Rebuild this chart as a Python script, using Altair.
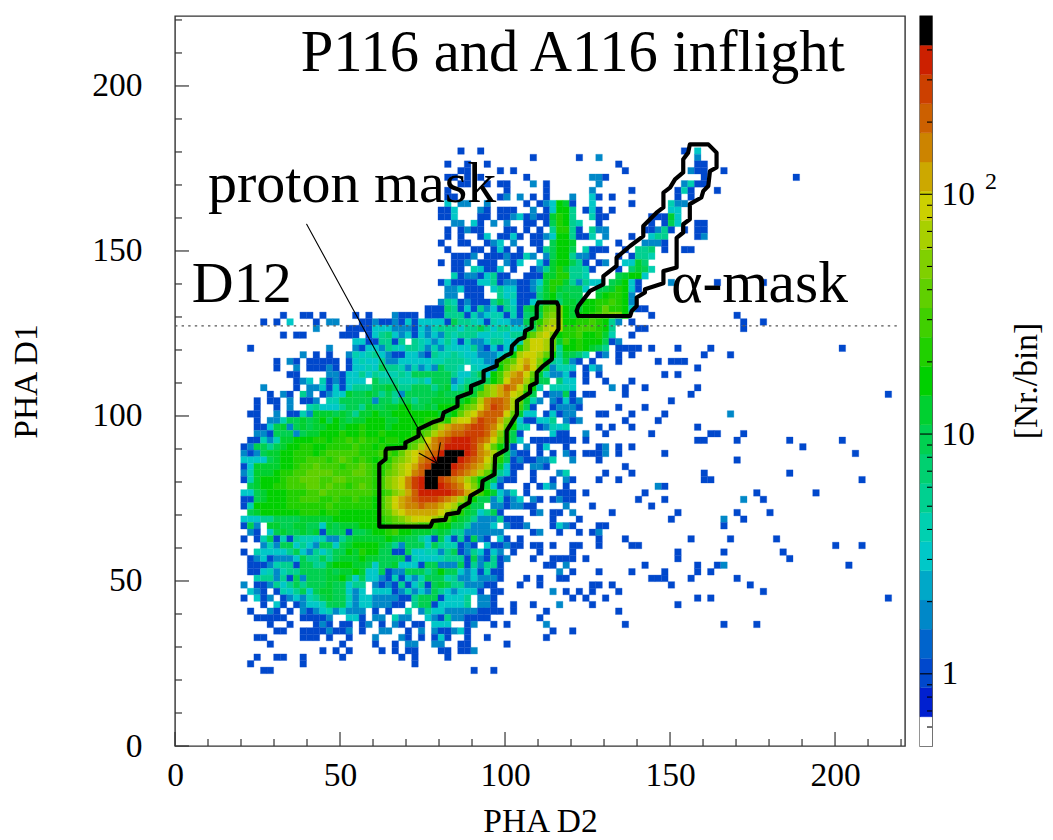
import altair as alt
import pandas as pd

FONT = "Liberation Serif"
BIN = 255 / 128
X_MAX = 221.2
Y_MAX = 221.2

# Histogram cells: "row|col:codes col:codes"
ROWS = [
"90|43:1 46:1 77:1 79:3",
"89|54:1 61:1 64:2 79:2",
"88|41:1 44:1 47:1 67:1 79:11",
"87|43:11 49:1 51:1 68:1 78:2 79:11 83:1",
"86|41:11 44:1 46:1 53:1 63:221 80:1 94:1",
"85|43:11 47:1 49:1 50:1 54:2 56:1 64:2 77:2 78:4 79:11",
"84|41:1 50:1 56:1 63:2 69:1 76:1 77:4 78:1 82:1",
"83|41:11 49:12 52:2 54:1 56:1 60:2 63:3 64:1 66:1 76:1 78:1",
"82|41:3 43:22 47:2 53:1 55:123cb1 63:3 69:1 75:422",
"81|40:113 46:21 49:11 51:1 54:2 56:13cc5 62:13 64:1 66:1 75:33",
"80|40:113 46:11 49:11231211bdc5 63:411 72:111b3",
"79|42:22 45:31 48:2 50:2 53:11 56:1 57:adc54 64:1 72:1 74:1a3 79:11",
"78|41:1 43:12 45:11 50:1 51:1 53:1 55:1 57:5dd51 63:522 71:11251 77:1 79:11",
"77|41:1 43:1 46:13 49:1131 54:1123cc5 61:114 65:2 69:1 72:355 79:12",
"76|40:1 43:11 47:123 51:2 54:11 57:accb 64:3 67:1 71:2221",
"75|41:1 45:11 48:13 50:1 52:1 55:15acca 62:4111 68:1 70:557 74:1 77:11",
"74|42:1112 47:1112 51:1142 56:2acc5221 67:1 69:1554",
"73|40:1 42:112 46:111 50:213 55:31bcca51 64:12 68:33b7",
"72|42:11 45:4311 49:3 51:1 54:125bdb5541 67:1 69:7ba4",
"71|42:412213511 53:111bbdd554 67:abcc3",
"70|40:13 42:1111 46:33 48:512 51:2 52:11 54:23bddb5 61:2533 66:abc31 75:2 82:1 89:1",
"69|41:223111 48:3 49:5331125bdbaaa3 64:aabdc31",
"68|41:22 44:111 49:5341117bcabaa 64:bcddc2",
"67|40:254121115a531135bc7bbaccddedc2",
"66|38:111 41:751315231 50:541abbefgcbbccdfddc3 70:11",
"65|16:1 19:11 22:1 27:1 29:1 33:2 34:111 38:111 41:5551423441 51:417aafggcbccdefggc 72:1 85:1",
"64|13:1 15:1 17:3 21:1 23:22 28:11 30:2 31:11 33:2 34:1 35:3 36:1 37:3333 41:1a55431433 51:22abdghhccddedc52 69:1 86:1 89:1",
"63|21:2 26:1111 30:333 33:222 36:1 37:3 38:2 39:45 41:55355a5355 51:335afhihddeeedc5 70:11 86:1",
"62|16:1 18:11 25:111 29:1357323132325455533443 51:55dfhigcddeccdb4 69:1",
"61|27:33 29:11 31:55 33:1 34:5 36:5 37:4 38:3 39:2 40:3 41:5 42:3 43:1 44:4 45:22 47:3 48:55 50:3 51:34giihfbecdccca12",
"60|11:1 23:2 27:2 28:1 29:33 31:2 32:5 33:4 34:3 35:55 37:4 38:2 39:4 40:2 41:4 42:333 45:5 46:2 47:1 48:3 49:1 50:3 51:3dgiihf5ccdcba5 67:1111 72:1 76:1 81:1 101:1",
"59|19:2 21:1 23:1 26:2434532113321544543322234chiihfc5ba74 64:12 67:1 69:1 80:1 84:1",
"58|15:1 17:21 20:11111 26:13433522333334455543322defijigc54a21 63:1 67:1 73:1 75:111",
"57|15:1 18:2 20:111 23:21 26:1 27:3343a55424232a554.4332cfhikifb2443 62:132 79:1",
"56|17:11 23:22 25:13353544454aaaaaa5335a3cehjkifb42231 62:1 64:1 74:1 76:1",
"55|18:123 22:4121 26:333 30:a55544453aaa23555aceikkheaa.733 62:1 65:1 69:1",
"54|13:2 18:1 20:22 22:3 23:1 24:3 25:1 26:3 27:555aaba55aaa5ab35aabghjlkifc4.4443 66:2 68:1 71:1 79:1",
"53|14:1 16:21 19:5 20:2 22:1 23:2 24:33 26:baaba5a52aaaaabaaabbfghjkihda.122a1 62:11 68:1 78:1 108:1",
"52|12:1 14:11 17:2 19:11 21:2 23:44 25:aaaaa 30:2 31:aa5aa5aabbbbbcehkllkhfb42.21312 75:1",
"51|12:1 15:1 17:2 20:453335aa5baabbccaabacccdfgikmlkhea1 57:12221 67:1 71:1",
"50|11:11 15:2 17:11 19:42 21:bbbaba5bbcbbcccccccbbcfhikllli 51:fb33 56:1 57:3 58:1 59:22 64:11 69:1 74:1 84:2",
"49|12:1 14:224 17:aababcacbabbcccbbccccddedhiikmlljgd311335 59:212 68:1 73:1",
"48|12:11 14:3 15:ab2ababbccbccdcccbccccddfhjkklmmlkifc44 55:12434 64:1 66:1 69:1 79:1",
"47|12:22 14:1 15:aaa2abbcccdccdccdccccdefhjkllmmmljgca1 57:311 62:2 65:1 72:1 81:11 86:1",
"46|11:11 13:424 16:bbcccddcddededdcddcdefiklmnnnmlkifca3 54:1111111 62:1 79:11 85:1 93:1 101:1",
"45|10:12aa5abccddccddddeddcdcccefhjklnnnnmkifca1 53:2 55:13 59:1 64:12 67:1 69:1 95:1",
"44|10:212abbccdddcdeeeeedddeedfhijklnooonmkjhea211 55:1 57:1 59:21 62:111 65:2 67:1 74:1 103:1",
"43|10:3333abccddeeedefededcddfghiklnooonmlkigda1211224 60:2 64:1 85:1",
"42|10:13bbbbccdeefeeedeefeddeghijlmooonmlkjhfb311 54:22 56:1 68:1",
"41|10:24bbbcddeeffffeeeffeddfghikloooomlkjhfc531 54:1 58:2 59:4 65:1 69:1 80:1 93:1",
"40|10:14bcccdeefffeeffeeeedeghikmnoomlkjhfcba211 54:1 57:1 59:21 64:1 67:1 80:11 104:1",
"39|11:abccddeeeffefeedefedeghikmnoonmlkigdb31 53:1 55:132 59:1 73:21",
"38|10:33abcccdddeefeeeeeeeddeghjlnnnnnmljhecb324 53:1 58:111 62:1 71:1 88:1 97:1",
"37|10:11abcccddeeeddeddeddcegijklmmmlkjhfcaa24123 54:21 57:12 59:11 70:1 74:1 86:2 89:1",
"36|10:14cccccddddddeddddddcegijkklkkjihecaa 48:2212211 59:2 63:1 72:1",
"35|11:abccccccdddcddccccccefhijjjjjihfdba35a1 54:12 57:11 60:2 66:1 76:1 85:1 90:1",
"34|10:33355aaaabbbbbcccccccdefghiiihgecba52225111 57:1 61:1 75:1 83:2 86:1",
"33|10:1a2.bbaabbaa3babbbccccdeeffeedccaa52223.2112 57:1 58:3 59:2 60:1 64:11 83:1",
"32|11:21.3abaabab1aaa1aabccdeccbbbaba55222222 54:1 55:2 58:1 61:1 63:1 64:2",
"31|10:1 12:14a14154434225abbbbbcbbaa531a3151a21 49:31 52:1 64:1 68:1 78:1 84:1 91:1",
"30|13:242aa3532aa3abccccba52aaa3a544121 47:3112 51:11 54:11 57:1 60:11 64:1 69:11 100:1 104:1",
"29|10:1 12:433335a32535aacbdccaa11a334425a1253132 51:1 55:1 60:1 76:1 83:1 92:1",
"28|11:12312223a55a5abbbcbbaaaa1433345551a21512 54:1 57:1111 62:1 76:1 93:1",
"27|11:11124551aa55bcccbba3aab3331aa222a152551 56:11 59:2 71:1 79:1 82:1 83:2 102:1",
"26|11:11342455aaaababbcb33a122aaa5acaa3231411 58:2 60:1 64:1 69:1 74:1 79:1 81:1",
"25|12:455251a2aaabbca3a332141324aaa452232221 53:1 55:1 58:11 72:111 78:1 85:1",
"24|10:2 12:112535a5aaabaa355.212151351aba5522211 52:1 55:1 63:11 66:1 75:1 87:1",
"23|11:321.1435a3abbaa323.333124232a5323331.11 57:2 59:1 61:1 63:1 67:1 89:1",
"22|10:1 12:312.123245abaa42332222115aaa13335.221 60:1 62:1 65:1 79:1 81:1 108:1",
"21|13:1 15:3 16:1 18:1 19:2 20:33 22:4aaa 26:3 27:2 28:33 30:22211 36:5 37:aa 39:1 40:33 42:33 44:5 46:22 48:1 51:1 54:1 58:2 63:1 76:1",
"20|11:1 14:2 15:1 17:1 19:2 20:1 21:2 22:3 23:4 24:2 25:3 26:222 30:1 32:1 35:4 37:2 38:5 39:33 41:2 42:22 44:2211 48:11 51:1 56:1 67:1",
"19|12:11111 19:1111 23:2 26:33 28:1 30:22 33:4 34:22 38:3 39:2 40:1 41:5 42:22 44:1111 55:1",
"18|14:1 17:1 21:1 22:2 23:1 25:11 28:1 29:2 31:1 33:21 36:11 39:3 40:33 44:1 45:2 48:1 50:1 56:2 68:1 83:1 88:1",
"17|15:11 19:1111 23:2 24:11 26:2 28:1 31:22 35:1 37:2 39:2 40:11 42:2 43:3 44:1 57:1 60:1",
"16|12:11 19:111 23:1 26:1 30:2 34:2 35:1 37:1 39:1 40:3 41:1 44:1 47:1 56:1",
"15|14:1 25:1 30:1 33:1 35:22 39:22 43:11 50:1",
"14|22:1 24:1 26:1 31:1 33:1 35:11 40:11 43:11 45:2",
"13|12:1 15:11 19:1 25:1 34:1 36:1 41:1",
"12|11:1 19:1 36:1",
"11|13:11 45:1 48:1",
]

BAND_OF = {"1": 2, "2": 4, "3": 6, "4": 7, "5": 8, "7": 9, "a": 10, "b": 11, "c": 12,
           "d": 13, "e": 14, "f": 15, "g": 16, "h": 17, "i": 18, "j": 19, "k": 20,
           "l": 21, "m": 22, "n": 23, "o": 24}

PALETTE = ["#ffffff", "#0020d0", "#0048cc", "#0064cc", "#0088c8", "#00a8c8", "#00c8c8",
           "#00d0b0", "#00d090", "#00d070", "#00d050", "#00d030", "#00d000", "#20d000",
           "#40d000", "#60d000", "#80d000", "#a8d000", "#ccd000", "#cca800", "#cc8400",
           "#cc6000", "#cc4000", "#cc2000", "#000000"]

PROTON_X = [61.9, 77.4, 78.1, 81.9, 82.4, 85.9, 86.4, 89.2, 89.5, 93.0, 93.2, 96.8, 97.0, 100.5, 100.5,
            103.6, 103.6, 107.6, 107.6, 109.6, 109.6, 111.6, 114.2, 114.2, 116.2, 116.2, 115.7, 110.1,
            109.6, 109.6, 108.1, 108.1, 106.1, 105.9, 104.1, 102.1, 101.9, 100.1, 98.0, 97.5, 97.5,
            93.5, 93.5, 89.7, 89.7, 85.6, 85.6, 81.4, 80.9, 77.9, 73.8, 73.8, 69.8, 69.8, 64.2, 63.8, 63.8, 61.9, 61.9]
PROTON_Y = [66.5, 66.5, 68.2, 68.5, 70.2, 70.7, 72.2, 73.8, 75.8, 77.8, 80.3, 82.3, 87.9, 89.9, 95.5,
            100.5, 104.5, 107.1, 109.1, 110.1, 113.2, 115.2, 117.2, 123.2, 126.3, 133.3, 134.4, 134.4,
            133.3, 129.8, 129.3, 126.8, 125.8, 123.8, 123.2, 121.2, 119.0, 118.2, 116.7, 116.7, 115.2,
            113.6, 110.6, 109.1, 107.1, 105.6, 103.0, 101.0, 99.0, 98.0, 96.0, 93.9, 91.9, 90.4, 90.1, 89.4, 86.9, 85.4, 66.5]
ALPHA_X = [122.2, 137.9, 138.4, 139.9, 139.9, 142.4, 142.4, 148.0, 148.0, 152.0, 152.0, 154.0, 154.0, 156.0,
           156.0, 159.5, 160.1, 161.6, 162.1, 164.1, 164.1, 161.6, 156.0, 155.5, 154.0, 154.0, 151.5, 150.0,
           148.0, 148.0, 145.9, 141.9, 141.9, 137.9, 133.8, 133.8, 129.8, 129.8, 125.8, 122.2, 121.7, 122.2]
ALPHA_Y = [130.3, 130.3, 131.8, 133.3, 135.9, 137.4, 138.4, 140.2, 143.9, 145.0, 154.0, 155.6, 158.1, 159.6,
           164.2, 166.2, 168.2, 169.7, 174.2, 175.3, 179.8, 182.3, 182.3, 179.8, 177.8, 173.8, 171.7, 169.2,
           167.7, 163.2, 161.6, 157.6, 154.5, 151.5, 148.0, 145.5, 142.4, 139.9, 137.9, 133.3, 131.8, 130.3]

ARROW_X = [39.9, 79.4]
ARROW_Y = [158.1, 85.7]
BARB_X = [74.0, 79.4, 80.4]
BARB_Y = [88.7, 85.7, 91.9]
D12_LEVEL = 127.3
D12_END = 219.5

LABEL_TEXT = ["P116 and A116 inflight", "proton mask", "D12", "\u03b1-mask"]
LABEL_X = [38.1, 10.0, 5.1, 150.4]
LABEL_Y = [204.5, 164.8, 134.5, 134.5]
LABEL_SIZE = [58.6, 58, 58, 59.5]

MAJOR = [0, 50, 100, 150, 200]
MINOR = [10, 20, 30, 40, 60, 70, 80, 90, 110, 120, 130, 140, 160, 170, 180, 190, 210, 220]

Z_MIN, Z_MAX = 0.5, 554.0
Z_MAJOR = [1, 10, 100]
Z_MINOR = [0.6, 0.7, 0.8, 0.9, 2, 3, 4, 5, 6, 7, 8, 9, 20, 30, 40, 50, 60, 70, 80, 90, 200, 300, 400, 500]

cells = {}
for row in ROWS:
    j, rest = row.split("|")
    j = int(j)
    for seg in rest.split():
        start, codes = seg.split(":")
        for k, ch in enumerate(codes):
            if ch in BAND_OF:
                cells[(int(start) + k, j)] = BAND_OF[ch]
            elif ch == ".":
                cells.pop((int(start) + k, j), None)

hist = pd.DataFrame([
    {"x0": i * BIN, "x1": (i + 1) * BIN, "y0": j * BIN, "y1": (j + 1) * BIN, "band": b}
    for (i, j), b in cells.items()
])

W = 730
H = 730
xs = alt.Scale(domain=[0, X_MAX], nice=False, zero=False)
ys = alt.Scale(domain=[0, Y_MAX], nice=False, zero=False)
band_scale = alt.Scale(domain=list(range(1, 25)), range=PALETTE[1:])

xaxis = alt.Axis(values=MAJOR, title="PHA D2", ticks=False, domain=False, grid=False,
                 labelFontSize=33.5, titleFontSize=33.5, labelPadding=13, titlePadding=14,
                 labelFlush=False, labelOverlap=False)
yaxis = alt.Axis(values=MAJOR, title="PHA D1", ticks=False, domain=False, grid=False,
                 labelFontSize=33.5, titleFontSize=33.5, labelPadding=33, titlePadding=48,
                 labelOverlap=False)

rects = alt.Chart(hist).mark_rect(strokeWidth=0.3).encode(
    x=alt.X("x0:Q", scale=xs, axis=xaxis),
    x2="x1:Q",
    y=alt.Y("y0:Q", scale=ys, axis=yaxis),
    y2="y1:Q",
    color=alt.Color("band:O", scale=band_scale, legend=None),
    stroke=alt.Stroke("band:O", scale=band_scale, legend=None),
)


def line_layer(xv, yv, width, color="#000000", dash=None):
    df = pd.DataFrame({"x": xv, "y": yv, "o": range(len(xv))})
    kw = {"strokeWidth": width, "color": color, "strokeJoin": "round", "strokeCap": "round"}
    if dash:
        kw["strokeDash"] = dash
        kw["strokeCap"] = "butt"
    return alt.Chart(df).mark_line(**kw).encode(
        x=alt.X("x:Q", scale=xs, axis=xaxis),
        y=alt.Y("y:Q", scale=ys, axis=yaxis),
        order="o:Q",
    )


dotted = line_layer([0, D12_END], [D12_LEVEL, D12_LEVEL], 1.2, "#555555", [2.4, 4.2])
arrow = line_layer(ARROW_X, ARROW_Y, 1.1)
barb = line_layer(BARB_X, BARB_Y, 1.1)
proton = line_layer(PROTON_X, PROTON_Y, 4.2)
alpha_m = line_layer(ALPHA_X, ALPHA_Y, 4.2)

ticks_df = pd.DataFrame({"v": MAJOR + MINOR, "k": ["M"] * len(MAJOR) + ["m"] * len(MINOR)})
tick_color = "#333333"
ytick_major = alt.Chart(ticks_df[ticks_df.k == "M"]).mark_rule(color=tick_color, strokeWidth=1.2).encode(
    y=alt.Y("v:Q", scale=ys, axis=yaxis), x=alt.value(0), x2=alt.value(14))
ytick_minor = alt.Chart(ticks_df[ticks_df.k == "m"]).mark_rule(color=tick_color, strokeWidth=1.2).encode(
    y=alt.Y("v:Q", scale=ys, axis=yaxis), x=alt.value(0), x2=alt.value(7))
xtick_major = alt.Chart(ticks_df[ticks_df.k == "M"]).mark_rule(color=tick_color, strokeWidth=1.2).encode(
    x=alt.X("v:Q", scale=xs, axis=xaxis), y=alt.value(H), y2=alt.value(H - 14))
xtick_minor = alt.Chart(ticks_df[ticks_df.k == "m"]).mark_rule(color=tick_color, strokeWidth=1.2).encode(
    x=alt.X("v:Q", scale=xs, axis=xaxis), y=alt.value(H), y2=alt.value(H - 7))

labels = alt.Chart(pd.DataFrame({"t": LABEL_TEXT, "x": LABEL_X, "y": LABEL_Y, "s": LABEL_SIZE})).mark_text(
    font=FONT, align="left", baseline="alphabetic", color="#000000"
).encode(x=alt.X("x:Q", scale=xs, axis=xaxis), y=alt.Y("y:Q", scale=ys, axis=yaxis), text="t:N",
         size=alt.Size("s:Q", scale=None, legend=None))

main = alt.layer(rects, dotted, arrow, barb, proton, alpha_m,
                 ytick_major, ytick_minor, xtick_major, xtick_minor, labels).properties(width=W, height=H)

# colour bar
n = len(PALETTE)
ratio = (Z_MAX / Z_MIN) ** (1 / n)
bar_df = pd.DataFrame({
    "lo": [Z_MIN * ratio ** k for k in range(n)],
    "hi": [Z_MIN * ratio ** (k + 1) for k in range(n)],
    "c": PALETTE,
})
zs = alt.Scale(type="log", domain=[Z_MIN, Z_MAX], nice=False)
zaxis = alt.Axis(values=Z_MAJOR, title=None, ticks=False, domain=False, grid=False,
                 orient="right", labelFontSize=33.5, labelPadding=9, labelOverlap=False,
                 labelExpr="datum.value == 1 ? '1' : '10'")
BW = 12
bar = alt.Chart(bar_df).mark_rect(strokeWidth=0.3).encode(
    x=alt.value(0), x2=alt.value(BW),
    y=alt.Y("lo:Q", scale=zs, axis=zaxis),
    y2="hi:Q",
    color=alt.Color("c:N", scale=None, legend=None),
    stroke=alt.Stroke("c:N", scale=None, legend=None),
)
zmaj = alt.Chart(pd.DataFrame({"v": Z_MAJOR})).mark_rule(color="#000000", strokeWidth=1.1).encode(
    y=alt.Y("v:Q", scale=zs, axis=zaxis), x=alt.value(0), x2=alt.value(BW))
zmin = alt.Chart(pd.DataFrame({"v": Z_MINOR})).mark_rule(color="#000000", strokeWidth=1.1).encode(
    y=alt.Y("v:Q", scale=zs, axis=zaxis), x=alt.value(BW - 5), x2=alt.value(BW))
sup = alt.Chart(pd.DataFrame({"v": [100], "t": ["2"]})).mark_text(
    font=FONT, fontSize=24, align="left", baseline="alphabetic", dy=-5, color="#000000"
).encode(y=alt.Y("v:Q", scale=zs, axis=zaxis), x=alt.value(65), text="t:N")
ztitle = alt.Chart(pd.DataFrame({"t": ["[Nr./bin]"]})).mark_text(
    font=FONT, fontSize=33.5, angle=270, align="center", baseline="alphabetic", color="#000000"
).encode(x=alt.value(117), y=alt.value(365), text="t:N")
cbar = alt.layer(bar, zmaj, zmin, sup, ztitle).properties(width=BW, height=H)

chart = alt.hconcat(main, cbar, spacing=12).properties(
    padding={"left": 1, "top": 7, "right": 0, "bottom": -7}, background="white"
).configure_view(stroke="#333333", strokeWidth=1.4).configure_axis(
    labelFont=FONT, titleFont=FONT, labelColor="#000000", titleColor="#000000", titleFontWeight="normal"
)

chart.save("out.html", embed_options={"renderer": "svg", "actions": False})
